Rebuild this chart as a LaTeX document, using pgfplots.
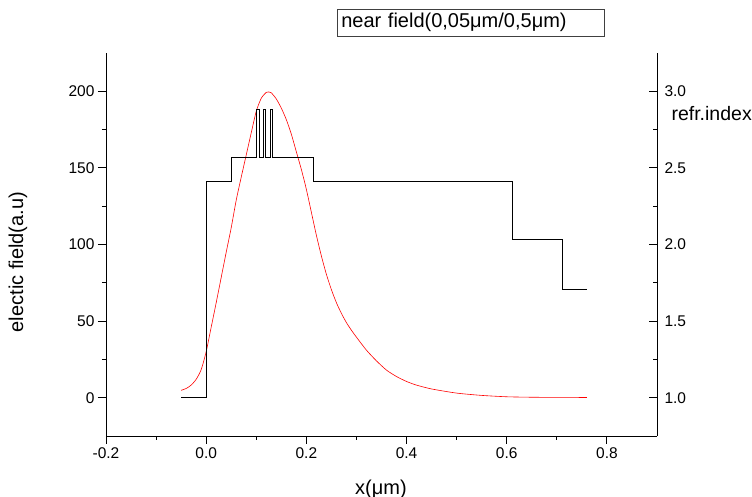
\documentclass[border=0pt]{standalone}
\usepackage{fontspec}
\setmainfont{Liberation Sans}
\usepackage{pgfplots}
\pgfplotsset{compat=1.18}
\begin{document}
\begin{tikzpicture}
\path[use as bounding box] (-106pt,-61pt) rectangle (646pt,436pt);
\pgfplotsset{
  common/.style={
    at={(0pt,0pt)}, anchor=south west,
    scale only axis, width=551pt, height=383pt,
    xmin=-0.2, xmax=0.9,
    axis line style={-, line width=0.9pt, black},
    major tick length=8pt, minor tick length=4pt,
    every tick/.style={line width=0.9pt, black},
    /pgf/number format/assume math mode=true,
    ticklabel style={font=\fontsize{15.5}{18}\selectfont},
    label style={font=\fontsize{20}{24}\selectfont},
    clip=false,
  }
}
\begin{axis}[common,
  ymin=-25, ymax=225,
  axis x line*=bottom, axis y line*=left,
  tick align=outside,
  xtick={-0.2,0,0.2,0.4,0.6,0.8}, minor x tick num=1,
  ytick={0,50,100,150,200}, minor y tick num=1,
  xticklabel style={/pgf/number format/.cd, fixed, fixed zerofill, precision=1},
  xlabel={x(μm)}, ylabel={electic field(a.u)},
  xlabel style={at={(axis description cs:0.499,-0.138)}, anchor=center},
  ylabel style={at={(axis description cs:-0.160,0.454)}, anchor=center},
]
\addplot[red, line width=0.6pt, smooth, tension=0.4] coordinates {
(-0.05,4.8) (-0.04,6.0) (-0.03,8.2) (-0.02,12.0) (-0.01,18.3) (0.0,30.0)
(0.01,46.0) (0.02,62.0) (0.03,78.5) (0.04,95.0) (0.05,111.0) (0.06,129.0)
(0.07,144.0) (0.08,158.5) (0.09,173.0) (0.10,187.0) (0.11,195.5) (0.12,199.3)
(0.125,199.6) (0.13,199.0) (0.14,195.0) (0.15,189.0) (0.16,181.5) (0.17,172.0)
(0.18,160.5) (0.19,149.0) (0.20,136.0) (0.21,121.0) (0.22,106.0) (0.23,92.5)
(0.24,80.5) (0.25,70.5) (0.26,62.0) (0.27,55.0) (0.28,49.0) (0.29,44.0)
(0.30,39.5) (0.32,31.0) (0.34,24.0) (0.36,18.0) (0.38,13.8) (0.40,10.6)
(0.42,8.2) (0.45,5.7) (0.50,3.0) (0.55,1.5) (0.60,0.6) (0.65,0.3) (0.70,0.2)
(0.76,0.15)
};
\node[draw=black!75, line width=0.6pt, anchor=west, text width=259pt, inner xsep=4pt,
  inner ysep=0pt, minimum height=27pt, font=\fontsize{20}{24}\selectfont]
  at (rel axis cs:0.4192,1.0797) {near field(0,05μm/0,5μm)};
\end{axis}
\begin{axis}[common,
  ymin=0.75, ymax=3.25,
  axis x line=none, axis y line*=right,
  tick align=inside,
  ytick={1,1.5,2,2.5,3}, minor y tick num=1,
  yticklabel style={xshift=4pt, /pgf/number format/.cd, fixed, fixed zerofill, precision=1},
]
\addplot[black, line width=0.6pt] coordinates {
(-0.05,1.0) (0,1.0) (0,2.41) (0.05,2.41) (0.05,2.57) (0.101,2.57) (0.101,2.88)
(0.106,2.88) (0.106,2.57) (0.114,2.57) (0.114,2.88) (0.118,2.88) (0.118,2.57)
(0.1275,2.57) (0.1275,2.88) (0.132,2.88) (0.132,2.57) (0.213,2.57) (0.213,2.41)
(0.611,2.41) (0.611,2.035) (0.711,2.035) (0.711,1.71) (0.76,1.71)
};
\node[anchor=west, font=\fontsize{19.5}{23}\selectfont] at (rel axis cs:1.020,0.843) {refr.index};
\end{axis}
\end{tikzpicture}
\end{document}
